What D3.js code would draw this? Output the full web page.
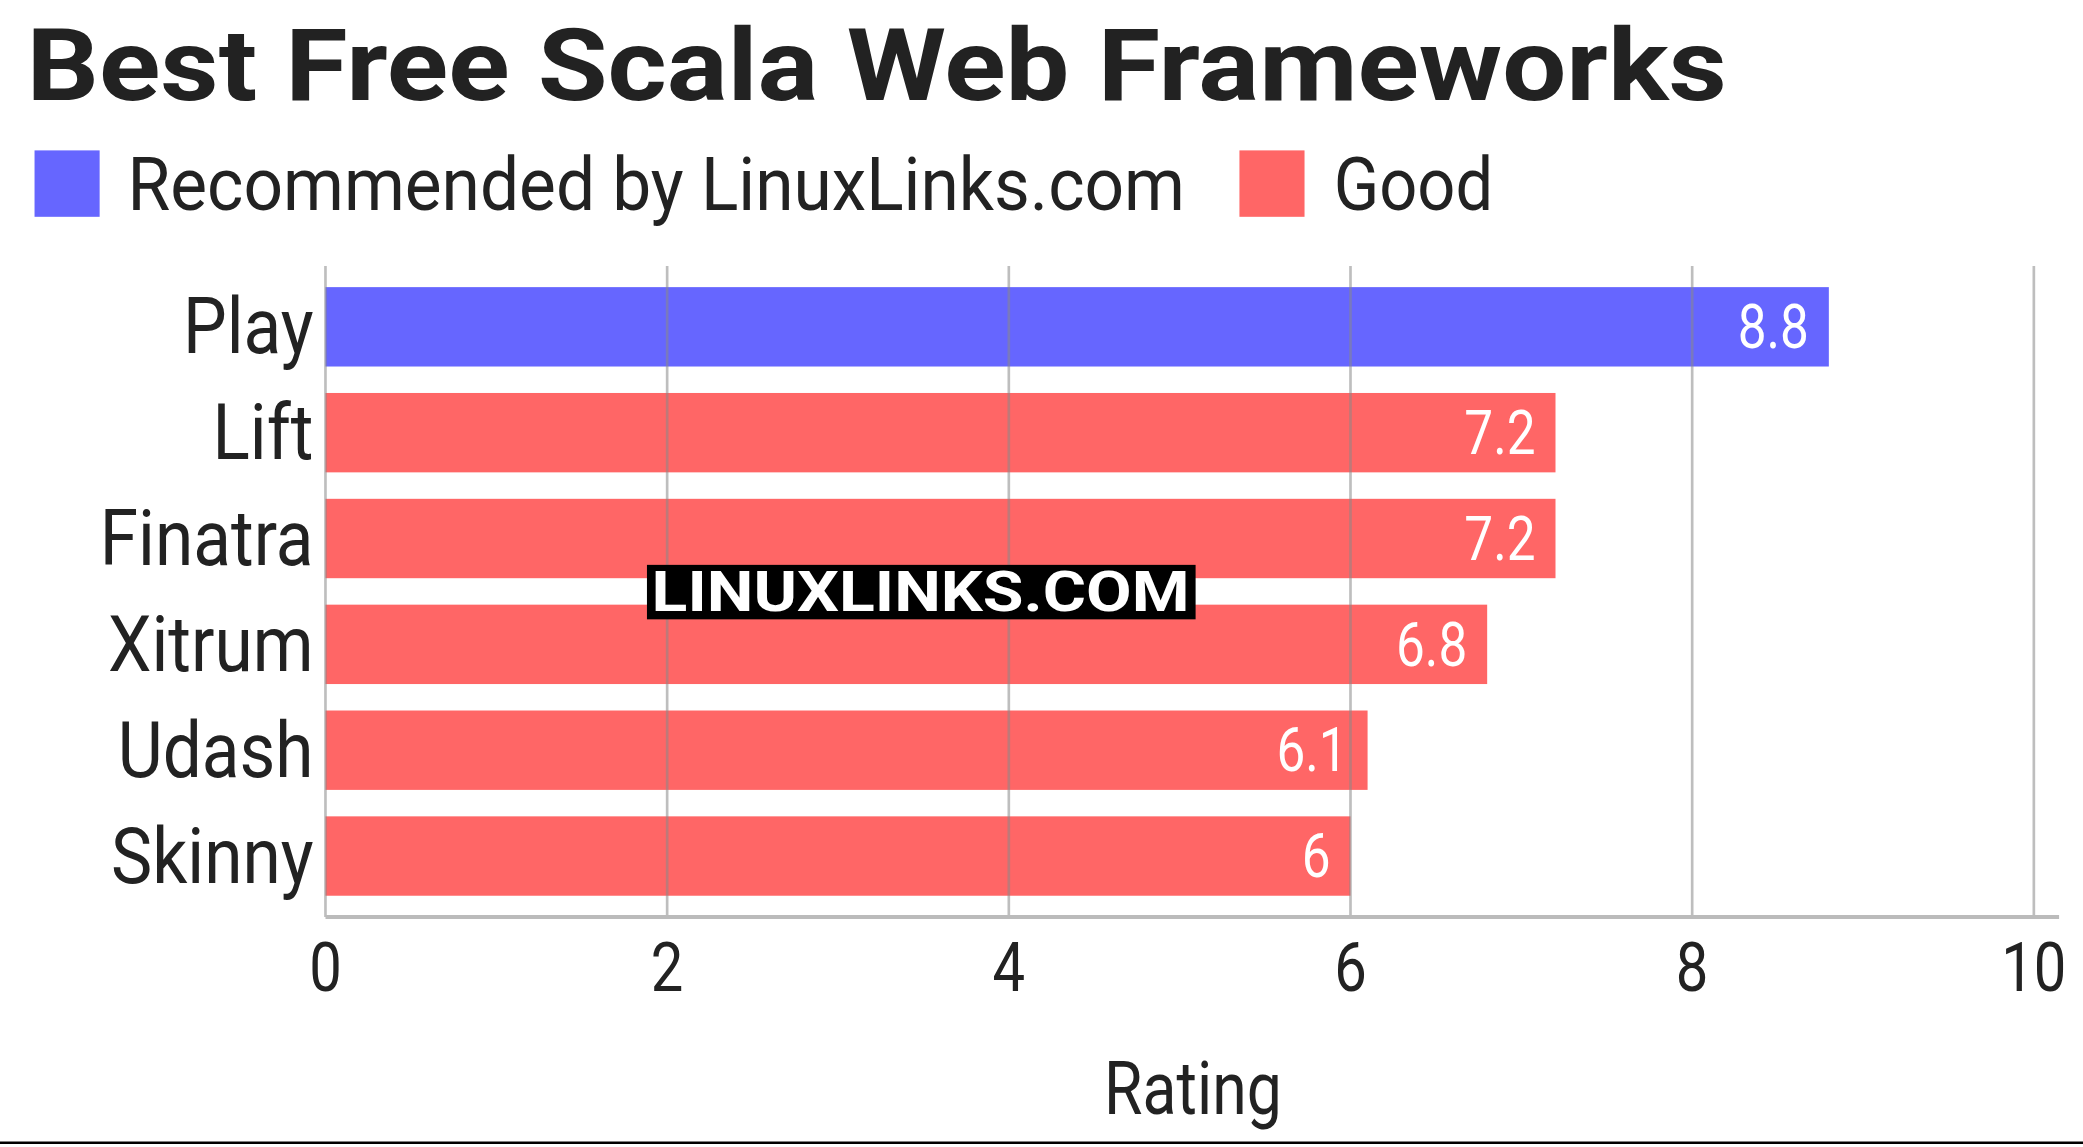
<!DOCTYPE html>
<html><head><meta charset="utf-8">
<script src="https://cdn.jsdelivr.net/npm/d3@7"></script>
<style>body{margin:0;background:#fff}text{font-family:Roboto,sans-serif}</style>
</head><body>
<svg id="chart" width="2083" height="1147" viewBox="0 0 1568 863"></svg>
<script>
const names = ["Play", "Lift", "Finatra", "Xitrum", "Udash", "Skinny"];
const ratings = [8.8, 7.2, 7.2, 6.8, 6.1, 6];
const groups = ["rec", "good", "good", "good", "good", "good"];
const legendLabels = ["Recommended by LinuxLinks.com", "Good"];
const xTicks = [0, 2, 4, 6, 8, 10];

const color = { rec: "#6666ff", good: "#ff6666" };
const svg = d3.select("#chart");

// fake condensed font via horizontal scale
function ctext(x, y, str, size, anchor, fill, sx) {
  return svg.append("text")
    .attr("transform", `translate(${x},${y}) scale(${sx || 0.84},1)`)
    .attr("text-anchor", anchor).attr("font-size", size)
    .attr("fill", fill || "#222").text(str);
}

// title
svg.append("text").attr("x", 20).attr("y", 75).attr("font-size", 76).attr("font-weight", 700)
  .attr("fill", "#222").attr("textLength", 1280).attr("lengthAdjust", "spacingAndGlyphs")
  .text("Best Free Scala Web Frameworks");

// legend
svg.append("rect").attr("x", 26).attr("y", 113).attr("width", 49).attr("height", 50).attr("fill", color.rec);
svg.append("text").attr("x", 96).attr("y", 158).attr("font-size", 56).attr("fill", "#222")
  .attr("textLength", 796).attr("lengthAdjust", "spacingAndGlyphs").text(legendLabels[0]);
svg.append("rect").attr("x", 933).attr("y", 113).attr("width", 49).attr("height", 50).attr("fill", color.good);
svg.append("text").attr("x", 1004).attr("y", 158).attr("font-size", 56).attr("fill", "#222")
  .attr("textLength", 120).attr("lengthAdjust", "spacingAndGlyphs").text(legendLabels[1]);

const x = d3.scaleLinear().domain([0, 10]).range([245, 1531]);
const y = d3.scaleBand().domain(names).range([200, 690]).paddingInner(0.25).paddingOuter(0.2);

// bars
svg.selectAll("rect.bar").data(names).enter().append("rect").attr("class", "bar")
  .attr("x", x(0)).attr("y", d => y(d)).attr("height", y.bandwidth())
  .attr("width", (d, i) => x(ratings[i]) - x(0)).attr("fill", (d, i) => color[groups[i]]);

// grid over bars
svg.selectAll("line.grid").data(xTicks).enter().append("line").attr("class", "grid")
  .attr("x1", d => x(d)).attr("x2", d => x(d)).attr("y1", 200).attr("y2", 690)
  .attr("stroke", "#888").attr("stroke-opacity", 0.55).attr("stroke-width", 2);
svg.append("line").attr("x1", 245).attr("x2", 1550).attr("y1", 690).attr("y2", 690)
  .attr("stroke", "#bbb").attr("stroke-width", 3);

// labels
names.forEach((n, i) => {
  const cy = y(n) + y.bandwidth() / 2;
  ctext(236, cy + 20, n, 58, "end", "#222", 0.9);
  ctext(x(ratings[i]) - 15, cy + 16, String(ratings[i]), 46, "end", "#fff");
});
xTicks.forEach(t => ctext(x(t), 746, String(t), 52, "middle"));
ctext(898, 838, "Rating", 56, "middle");

// watermark
svg.append("rect").attr("x", 487).attr("y", 425).attr("width", 413).attr("height", 41).attr("fill", "#000");
svg.append("text").attr("x", 693).attr("y", 460).attr("text-anchor", "middle").attr("font-size", 42)
  .attr("font-weight", 700).attr("fill", "#fff").attr("textLength", 405).attr("lengthAdjust", "spacingAndGlyphs")
  .text("LINUXLINKS.COM");

svg.append("line").attr("x1", 0).attr("x2", 1568).attr("y1", 860).attr("y2", 860).attr("stroke", "#000").attr("stroke-width", 2);
</script>
</body></html>
